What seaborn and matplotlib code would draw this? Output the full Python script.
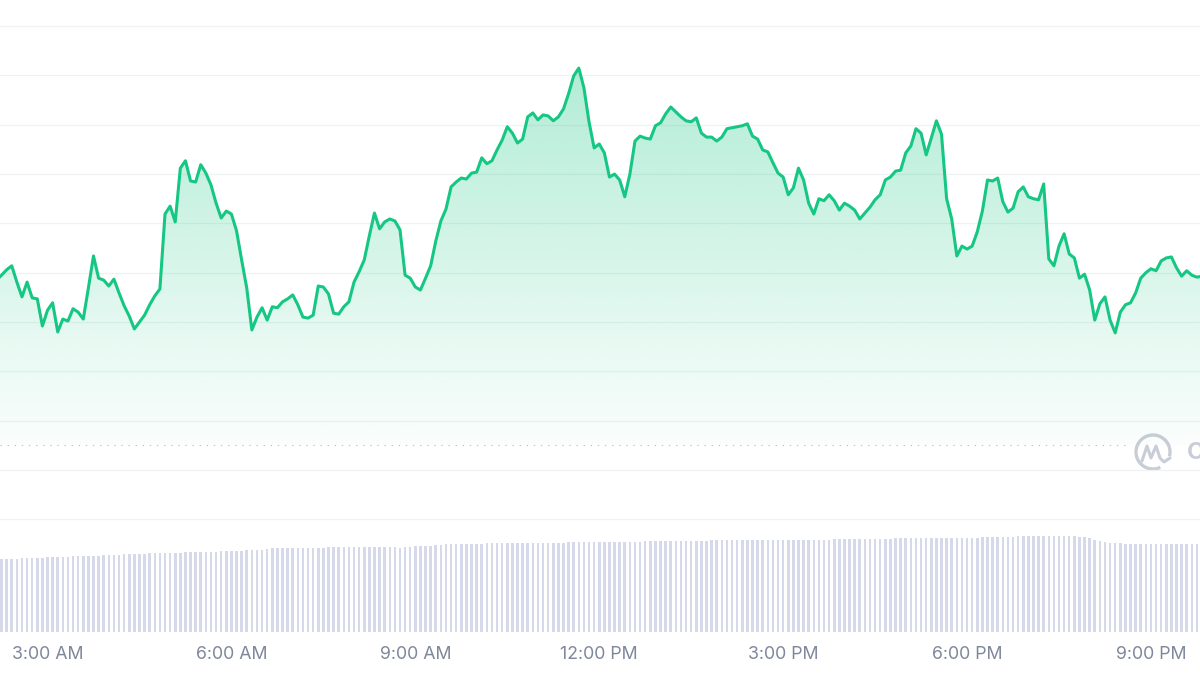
import numpy as np
import pandas as pd
import matplotlib
matplotlib.use("Agg")
import matplotlib.pyplot as plt
import matplotlib.dates as mdates
from matplotlib.patches import Arc
from matplotlib.lines import Line2D
import seaborn as sns

# 5-minute closes (starting 02:10)
prices = [
    138.5, 139.5, 140.6, 141.4, 138.1, 135.1, 138.1, 134.9, 134.7, 129.2,
    132.4, 133.9, 128.0, 130.6, 130.2, 132.7, 132.0, 130.6, 136.9, 143.4,
    138.9, 138.5, 137.3, 138.7, 135.9, 133.3, 131.2, 128.6, 130.0, 131.4,
    133.5, 135.3, 136.7, 151.9, 153.5, 150.3, 161.2, 162.7, 158.6, 158.4,
    161.9, 160.2, 157.8, 154.1, 151.1, 152.5, 151.9, 148.5, 142.6, 136.9,
    128.4, 131.0, 132.9, 130.4, 133.1, 132.9, 134.1, 134.7, 135.5, 133.5,
    131.0, 130.8, 131.4, 137.3, 137.1, 135.7, 131.8, 131.6, 133.1, 134.1,
    138.1, 140.2, 142.6, 147.5, 152.1, 148.9, 150.3, 150.9, 150.5, 148.7,
    139.5, 138.9, 137.1, 136.5, 138.9, 141.4, 146.4, 150.5, 152.9, 157.4,
    158.4, 159.2, 159.0, 160.2, 160.4, 163.3, 162.1, 162.7, 164.9, 166.9,
    169.6, 168.3, 166.3, 167.1, 171.6, 172.4, 171.0, 172.0, 171.8, 170.8,
    171.6, 173.2, 176.3, 179.9, 181.5, 177.5, 170.6, 165.3, 166.1, 164.3,
    159.4, 160.0, 158.8, 155.4, 160.0, 166.7, 167.7, 167.3, 167.1, 169.8,
    170.4, 172.2, 173.6, 172.6, 171.6, 170.8, 170.6, 171.4, 168.3, 167.5,
    167.5, 166.7, 167.5, 169.2, 169.4, 169.6, 169.8, 170.2, 167.7, 167.1,
    164.9, 164.5, 162.3, 160.2, 159.4, 155.8, 157.2, 161.2, 158.8, 154.1,
    151.9, 155.0, 154.6, 155.8, 154.6, 152.7, 154.1, 153.5, 152.7, 150.9,
    152.1, 153.3, 154.8, 155.8, 158.8, 159.4, 160.6, 160.8, 164.3, 165.7,
    169.2, 168.3, 163.9, 167.3, 170.8, 168.1, 155.0, 150.9, 143.4, 145.4,
    144.8, 145.4, 148.3, 152.5, 158.8, 158.6, 159.2, 154.4, 152.3, 153.1,
    156.4, 157.4, 155.4, 155.0, 154.8, 158.0, 142.8, 141.4, 145.4, 147.9,
    143.8, 143.0, 138.9, 139.7, 136.5, 130.4, 133.7, 135.1, 130.4, 127.8,
    132.0, 133.5, 133.9, 135.9, 138.9, 140.0, 140.8, 140.4, 142.4, 143.0,
    143.2, 141.0, 139.3, 140.4, 139.5, 139.1, 139.3,
]

# volume per 5-minute bar (billions)
volumes = [
    7.3, 7.3, 7.3, 7.3, 7.3, 7.4, 7.4, 7.4, 7.4, 7.4,
    7.5, 7.5, 7.5, 7.5, 7.5, 7.6, 7.6, 7.6, 7.6, 7.6,
    7.6, 7.7, 7.7, 7.7, 7.7, 7.8, 7.8, 7.8, 7.8, 7.8,
    7.9, 7.9, 7.9, 7.9, 7.9, 7.9, 7.9, 8.0, 8.0, 8.0,
    8.0, 8.0, 8.0, 8.0, 8.1, 8.1, 8.1, 8.1, 8.1, 8.2,
    8.2, 8.2, 8.2, 8.3, 8.4, 8.4, 8.4, 8.4, 8.4, 8.4,
    8.4, 8.4, 8.4, 8.4, 8.4, 8.5, 8.5, 8.5, 8.5, 8.5,
    8.5, 8.5, 8.5, 8.5, 8.5, 8.5, 8.5, 8.5, 8.5, 8.4,
    8.5, 8.5, 8.6, 8.6, 8.6, 8.6, 8.7, 8.7, 8.8, 8.8,
    8.8, 8.8, 8.8, 8.8, 8.8, 8.8, 8.9, 8.9, 8.9, 8.9,
    8.9, 8.9, 8.9, 8.9, 8.9, 8.9, 8.9, 8.9, 8.9, 8.9,
    8.9, 8.9, 9.0, 9.0, 9.0, 9.0, 9.0, 9.0, 9.0, 9.0,
    9.0, 9.0, 9.0, 9.0, 9.0, 9.0, 9.0, 9.1, 9.1, 9.1,
    9.1, 9.1, 9.1, 9.1, 9.1, 9.1, 9.1, 9.1, 9.1, 9.1,
    9.2, 9.2, 9.2, 9.2, 9.2, 9.2, 9.2, 9.2, 9.2, 9.2,
    9.2, 9.2, 9.2, 9.2, 9.2, 9.2, 9.2, 9.2, 9.2, 9.2,
    9.2, 9.2, 9.2, 9.2, 9.3, 9.3, 9.3, 9.3, 9.3, 9.3,
    9.3, 9.3, 9.3, 9.3, 9.3, 9.3, 9.4, 9.4, 9.4, 9.4,
    9.4, 9.4, 9.4, 9.4, 9.4, 9.4, 9.4, 9.4, 9.4, 9.4,
    9.4, 9.4, 9.4, 9.5, 9.5, 9.5, 9.5, 9.5, 9.5, 9.5,
    9.6, 9.6, 9.6, 9.6, 9.6, 9.6, 9.6, 9.6, 9.6, 9.6,
    9.6, 9.6, 9.5, 9.5, 9.4, 9.2, 9.1, 9.0, 8.9, 8.9,
    8.9, 8.8, 8.8, 8.8, 8.8, 8.8, 8.8, 8.8, 8.8, 8.8,
    8.8, 8.8, 8.8, 8.8, 8.8, 8.8, 8.8,
]

tick_hours = [3, 6, 9, 12, 15, 18, 21]
tick_labels = ["3:00 AM", "6:00 AM", "9:00 AM", "12:00 PM", "3:00 PM", "6:00 PM", "9:00 PM"]
open_price = 105.1
day = "2024-03-12"

GREEN = "#16c784"
GRID = "#eff2f5"
BAR = "#d6d9ea"
LABEL = "#7f879b"

times = pd.date_range(f"{day} 02:10", periods=len(prices), freq="5min")
df = pd.DataFrame({"time": times, "price": prices, "volume": volumes})

sns.set_theme(style="white")
plt.rcParams["font.family"] = ["Inter", "DejaVu Sans"]

fig = plt.figure(figsize=(12, 6.75), dpi=100)
ax = fig.add_axes([0, 43 / 675, 1, 632 / 675])
ax2 = ax.twinx()
ax.set_zorder(ax2.get_zorder() + 1)
ax.patch.set_visible(False)

# volume bars
ax2.bar(df["time"], df["volume"], width=5 / 1440 * 0.5, color=BAR, linewidth=0)
ax2.set_ylim(0, 63.2)
ax2.set_yticks([])

# grid
for v in range(90, 200, 10):
    ax.axhline(v, color=GRID, lw=0.9, zorder=0)
ax.axhline(open_price, xmax=0.94, color="#b9bfca", lw=0.8, ls=(0, (1.2, 5.2)), zorder=0.5)

# price line + gradient fill
sns.lineplot(data=df, x="time", y="price", ax=ax, color=GREEN, linewidth=2.2, zorder=3)
poly = ax.fill_between(df["time"], df["price"], open_price, color="none", lw=0)

grad = np.linspace(0, 1, 256).reshape(-1, 1)
rgba = np.zeros((256, 1, 4))
rgba[..., :3] = matplotlib.colors.to_rgb(GREEN)
rgba[..., 3] = (0.02 + 0.31 * grad)[..., 0:1]
x0, x1 = mdates.date2num(times[0]), mdates.date2num(times[-1])
im = ax.imshow(rgba, extent=[x0, x1, open_price, max(prices)], aspect="auto",
               origin="lower", zorder=1, interpolation="bilinear")
im.set_clip_path(poly.get_paths()[0], transform=ax.transData)

ax.set_xlim(pd.Timestamp(f"{day} 02:13:30"), pd.Timestamp(f"{day} 21:48:00"))
ax.set_ylim(67.15, 195.3)
ax.set_yticks([])
ax.set_xticks([pd.Timestamp(f"{day} {h:02d}:00") for h in tick_hours])
ax.set_xticklabels(tick_labels)
ax.tick_params(axis="x", length=0, pad=10, labelsize=12.8, labelcolor=LABEL)
ax.set_xlabel("")
ax.set_ylabel("")
for a in (ax, ax2):
    for s in a.spines.values():
        s.set_visible(False)

# watermark (runs off the right edge, as in the original)
LOGO = "#c9cdd7"
cx, cy = 1153 / 1200, 1 - 452 / 675
fig.add_artist(Arc((cx, cy), 34 / 1200, 34 / 675, theta1=-25, theta2=285,
                   transform=fig.transFigure, color=LOGO, lw=2.4))
mx = np.array([1142, 1147, 1151, 1156, 1160, 1164, 1170]) / 1200
my = 1 - np.array([461, 446, 458, 446, 458, 462, 458]) / 675
fig.add_artist(Line2D(mx, my, transform=fig.transFigure, color=LOGO, lw=2.2,
                      solid_joinstyle="round", solid_capstyle="round"))
fig.text(1187 / 1200, cy, "CoinMarketCap", color=LOGO, fontsize=17,
         fontweight="bold", va="center", ha="left")

fig.savefig("out.png", dpi=100)
